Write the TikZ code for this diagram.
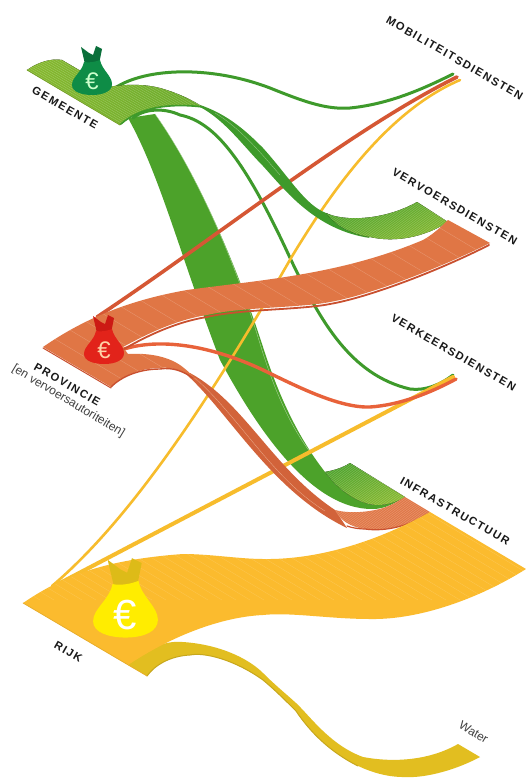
\documentclass[tikz,border=0pt]{standalone}
\usepackage{fontspec}
\setmainfont{Liberation Sans}
\newfontfamily\lab[LetterSpace=14]{Liberation Sans Bold}
\definecolor{gmain}{HTML}{4CA22A}
\definecolor{gdark}{HTML}{3E9A2B}
\definecolor{glight}{HTML}{86B82E}
\definecolor{gmid}{HTML}{6CAC2C}
\definecolor{omain}{HTML}{E07645}
\definecolor{odark}{HTML}{C9502F}
\definecolor{oband}{HTML}{D2633A}
\definecolor{oline}{HTML}{E8623A}
\definecolor{ymain}{HTML}{FBBB2E}
\definecolor{yline}{HTML}{F7BC2C}
\definecolor{ywater}{HTML}{E2BE20}
\definecolor{bagg}{HTML}{0E8C46}
\definecolor{baggd}{HTML}{0A6F3A}
\definecolor{bagr}{HTML}{E2231A}
\definecolor{bagrd}{HTML}{CC1A14}
\definecolor{bagy}{HTML}{FFED00}
\definecolor{bagyd}{HTML}{DDBB18}
\tikzset{
  labeltext/.style={font=\lab\fontsize{11.2}{13}\selectfont,text=black!90,inner sep=0pt,anchor=west,rotate=-30},
  thinlabel/.style={font=\fontsize{12}{13}\selectfont,text=black!75,inner sep=0pt,anchor=west,rotate=-31},
  flowline/.style={line cap=round,line join=round},
  stripe/.style={line width=.35pt,opacity=.35}
}
\newcommand{\ribbon}[5]{% path, fill options, stripe options, stripe step, stripe start
  \fill[#2] #1;
  \begin{scope}
    \clip #1;
    \foreach \sx in {#5,\the\numexpr#5+#4\relax,...,300}
      \draw[stripe,#3] (\sx,0) -- ++(1000,600);
  \end{scope}}
\newcommand{\moneybag}[8]{% x,y,scale,body,ears,euro colour,euro size,name
  \begin{scope}[shift={(#1,#2)},x=#3pt,y=-#3pt]
    \fill[#5] (-7,-14) -- (-11,-31) -- (-3,-25) -- (1,-23) -- (4,-32) -- (10,-29) -- (7,-14) -- cycle;
    \fill[#4] (-8,-16) .. controls (-10,-6) and (-20,-1) .. (-20,7) .. controls (-20,14) and (-10,17) .. (0,17)
       .. controls (12,17) and (20,13) .. (20,6) .. controls (20,-2) and (10,-8) .. (8,-18) .. controls (3,-16) and (-3,-15) .. (-8,-16) -- cycle;
    \node[inner sep=0pt,text=#6,font=\fontsize{#7}{#7}\selectfont] (#8) at (0,3) {€};
  \end{scope}}
\begin{document}
\begin{tikzpicture}[x=1pt,y=-1pt]
\useasboundingbox (0,0) rectangle (526,778);
\fill[white] (0,0) rectangle (526,778);

% green thick band to Infrastructuur
\fill[gmain] (128,118) .. controls (160,175) and (180,255) .. (220,360) .. controls (255,425) and (310,510) .. (373,509) .. controls (385,509) and (395,503) .. (405,497)
  .. controls (395,503) and (385,505) .. (378,505) .. controls (360,505) and (340,492) .. (325,472)
  .. controls (300,440) and (280,400) .. (263,347) .. controls (235,260) and (195,170) .. (155,114) -- cycle;
\draw[white!55!gmain,line width=.35pt] (155,114) .. controls (195,170) and (235,260) .. (261,347) .. controls (275,392) and (290,425) .. (310,452);
\ribbon{(325,472) .. controls (335,470) and (342,468) .. (350,463) -- (405,497) .. controls (395,503) and (385,505) .. (378,505) .. controls (360,505) and (340,492) .. (325,472) -- cycle}{left color=gmain,right color=glight,shading angle=20}{white,opacity=.25}{3}{-600}

% green line to Verkeersdiensten
\draw[gdark,line width=3pt,flowline] (133,118) .. controls (145,108) and (165,108) .. (180,115) .. controls (215,122) and (245,160) .. (291,260) .. controls (320,320) and (350,375) .. (410,389) .. controls (425,391) and (440,385) .. (453,375);

% yellow lines
\draw[yline,line width=2.6pt,flowline] (52,586) .. controls (130,520) and (210,400) .. (291,258) .. controls (335,185) and (390,110) .. (460,80);
\draw[yline,line width=4pt,flowline] (60,583) -- (453,377);

% orange line to Mobiliteitsdiensten
\draw[odark!60!oline,line width=3.6pt,flowline] (97,317) .. controls (220,235) and (350,130) .. (457,77);

% green line to Mobiliteitsdiensten
\draw[gdark,line width=3pt,flowline] (115,88) .. controls (145,68) and (210,65) .. (270,88) .. controls (300,100) and (325,110) .. (350,108) .. controls (390,104) and (425,88) .. (453,74);

% green ribbon to Vervoersdiensten
\fill[gdark] (200,105) .. controls (230,115) and (250,135) .. (263,148) .. controls (290,178) and (305,205) .. (326,213) -- (370,238)
  .. controls (315,230) and (285,190) .. (263,166) .. controls (245,148) and (225,120) .. (200,107) -- cycle;
\draw[white!45!gmain,line width=.3pt] (215,113) .. controls (240,128) and (260,152) .. (280,175);
\ribbon{(326,213) .. controls (345,222) and (385,220) .. (417,202) -- (448,222) .. controls (425,237) and (395,243) .. (370,237) .. controls (350,234) and (335,225) .. (326,213) -- cycle}{left color=gmain,right color=glight,shading angle=20}{white,opacity=.25}{3}{-300}

% green sheet
\ribbon{(27,70) .. controls (38,62) and (52,58) .. (62,60) -- (108,87) .. controls (125,84) and (145,84) .. (160,88) .. controls (178,93) and (192,100) .. (203,107)
  .. controls (170,103) and (140,106) .. (120,125) -- cycle}{left color=glight,right color=gmid,shading angle=100}{white,opacity=.25}{4}{-300}
\draw[gdark,line width=1.6pt,line cap=round] (121,124) .. controls (140,107) and (170,103) .. (203,107);
\draw[glight!90!black,line width=.8pt,line cap=round] (27,70) -- (120,125);

% orange band to Infrastructuur
\fill[oband] (190,373) .. controls (245,403) and (272,468) .. (335,510) -- (347,528) .. controls (272,492) and (230,414) .. (187,375) -- cycle;
\draw[white!40!omain,line width=.3pt] (195,378) .. controls (240,418) and (272,478) .. (325,511);
\ribbon{(335,510) .. controls (350,514) and (370,512) .. (383,508) .. controls (392,505) and (398,501) .. (405,497) -- (430,512) .. controls (410,526) and (385,532) .. (365,529) .. controls (350,527) and (340,520) .. (335,510) -- cycle}{fill=omain}{white,opacity=.25}{3}{-600}
\draw[odark,line width=1.2pt,line cap=round] (347,526) .. controls (352,528) and (360,529) .. (365,529) .. controls (385,532) and (410,526) .. (429,513);

% orange line to Verkeersdiensten
\draw[oline,line width=3.4pt,flowline] (124,349) .. controls (160,338) and (210,345) .. (263,370) .. controls (300,388) and (340,408) .. (370,407) .. controls (400,405) and (430,393) .. (456,379);

% orange ribbon to Vervoersdiensten (with the sheet)
\ribbon{(43,347) .. controls (85,318) and (130,300) .. (187,290) .. controls (260,280) and (340,275) .. (423,240) .. controls (432,235) and (440,228) .. (448,220)
  -- (490,243) .. controls (440,268) and (370,295) .. (330,302) .. controls (300,308) and (240,307) .. (207,315) .. controls (175,320) and (145,335) .. (123,347)
  -- (128,354) .. controls (145,353) and (165,355) .. (180,365) .. controls (187,370) and (193,376) .. (200,383) .. controls (185,372) and (172,366) .. (160,368) .. controls (140,368) and (122,376) .. (111,387) -- cycle}{fill=omain}{white,opacity=.22}{30}{-600}
\draw[odark,line width=1.8pt,line cap=round] (489,245) .. controls (440,270) and (370,297) .. (330,304) .. controls (300,310) and (240,309) .. (207,317) .. controls (175,322) and (145,337) .. (124,349);
\draw[odark,line width=1.4pt,line cap=round] (111,387) .. controls (122,376) and (140,369) .. (160,369) .. controls (172,367) and (183,371) .. (193,378);
\draw[odark,line width=1pt,line cap=round] (43,348) -- (111,388);

% yellow band to Water
\ribbon{(128,665) .. controls (140,655) and (155,645) .. (167,643) .. controls (175,641) and (185,642) .. (193,643) .. controls (225,647) and (250,660) .. (263,673) .. controls (275,685) and (285,693) .. (296,703) .. controls (310,716) and (330,745) .. (363,757) .. controls (395,763) and (430,760) .. (458,744)
  -- (480,757) .. controls (450,773) and (420,778) .. (406,777) .. controls (365,778) and (322,750) .. (296,711) .. controls (285,700) and (275,690) .. (263,680) .. controls (235,660) and (205,652) .. (190,655) .. controls (170,656) and (155,665) .. (147,676) -- cycle}{fill=ywater}{white,opacity=.25}{5}{-1500}
\draw[ywater!88!black,line width=1pt,line cap=round] (147,676) .. controls (155,665) and (170,656) .. (190,655) .. controls (205,652) and (235,660) .. (263,680) .. controls (275,690) and (285,700) .. (296,711) .. controls (310,732) and (330,752) .. (358,766);

% yellow sheet and ribbon to Infrastructuur
\ribbon{(23,603) .. controls (60,578) and (100,560) .. (183,554) .. controls (210,554) and (240,559) .. (263,559) .. controls (320,560) and (380,540) .. (430,512)
  -- (526,569) .. controls (480,598) and (420,620) .. (370,619) .. controls (330,619) and (290,612) .. (263,615) .. controls (220,617) and (170,637) .. (128,665) -- cycle}{fill=ymain}{white,opacity=.16}{14}{-1100}
\draw[ymain!92!black,line width=.7pt,line cap=round] (23,603) -- (147,676);

% money bags
\moneybag{92}{78}{1}{fill=bagg}{fill=baggd}{green!20!white}{24}{eurog}
\moneybag{104}{347}{1}{fill=bagr}{fill=bagrd}{orange!35!white}{24}{euror}
\moneybag{125.5}{610}{1.62}{fill=bagy}{fill=bagyd}{white}{42}{euroy}

% labels
\node[labeltext] (gemeente) at (33,89) {GEMEENTE};
\node[labeltext] (mob) at (387,19) {MOBILITEITSDIENSTEN};
\node[labeltext] (verv) at (393,171) {VERVOERSDIENSTEN};
\node[labeltext] (verk) at (392,317) {VERKEERSDIENSTEN};
\node[labeltext] (infra) at (401,480) {INFRASTRUCTUUR};
\node[labeltext] (prov) at (35,366) {PROVINCIE};
\node[thinlabel] (ensub) at (13,368) {[en vervoersautoriteiten]};
\node[labeltext] (rijk) at (55,644) {RIJK};
\node[thinlabel] (water) at (460,724) {Water};
\end{tikzpicture}
\end{document}
